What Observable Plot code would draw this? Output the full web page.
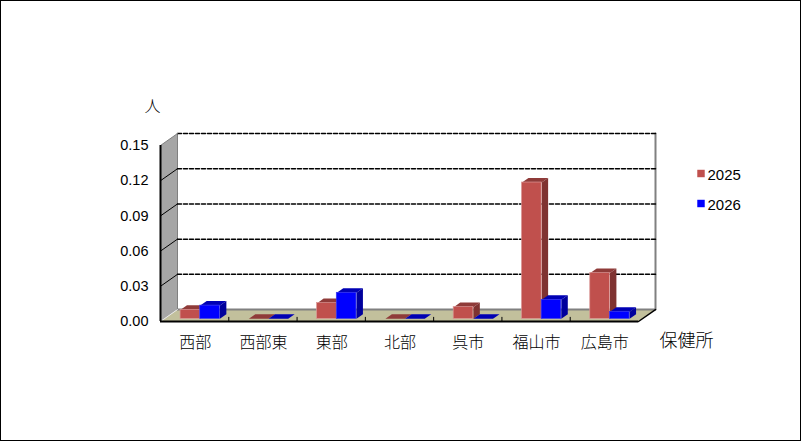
<!DOCTYPE html>
<html><head><meta charset="utf-8">
<script src="https://cdn.jsdelivr.net/npm/d3@7"></script>
<script src="https://cdn.jsdelivr.net/npm/@observablehq/plot@0.6"></script>
<style>
html,body{margin:0;padding:0;background:#fff}
svg{display:block;outline:1px solid #000;outline-offset:-1px}
</style></head><body>
<script>
const categories = ["西部","西部東","東部","北部","呉市","福山市","広島市"];
const values2025 = [0.0077,0,0.0134,0,0.0100,0.1162,0.0390];
const values2026 = [0.0113,0,0.0222,0,0,0.0162,0.0060];
const seriesNames = ["2025","2026"];
const yTicks = [0,0.03,0.06,0.09,0.12,0.15];

const cjk = "'Noto Sans CJK JP',sans-serif";
const latin = "'Liberation Sans',sans-serif";
const DX = 0.249, DY = 0.0102;                // oblique depth, in data units
const P = (x,y,z)=>({x:x+z*DX,y:y+z*DY});     // project (x,y,depth) into the plane
const n = categories.length, yMax = 0.15;
const face = (pts,fill)=>Plot.line(pts,{x:"x",y:"y",fill,stroke:"none"});
const edge = (pts,o)=>Plot.line(pts,{x:"x",y:"y",...o});

const series = [
  {name:seriesNames[0],vals:values2025,off:0.239,front:"#c0504d",roof:"#8f3b39",side:"#7f3331",hi:"#d99694"},
  {name:seriesNames[1],vals:values2026,off:0.527,front:"#0000ff",roof:"#0000b4",side:"#00009c",hi:"#3a3af0"}
];
const W = 0.288, Z0 = 0.22, Z1 = 0.6;
const barMarks = [];
categories.forEach((c,i)=>{
  series.forEach(s=>{
    const v = s.vals[i], x0=i+s.off, x1=x0+W;
    const b0=P(x0,0,Z0).y;
    barMarks.push(face([P(x0,v,Z0),P(x1,v,Z0),P(x1,v,Z1),P(x0,v,Z1)],s.roof));
    barMarks.push(face([P(x1,0,Z0),P(x1,v,Z0),P(x1,v,Z1),P(x1,0,Z1)],s.side));
    barMarks.push(Plot.rect([{c,v}],{
      x1:()=>P(x0,0,Z0).x,x2:()=>P(x1,0,Z0).x,y1:()=>b0,y2:d=>b0+d.v,
      fill:s.front,stroke:v>0?s.hi:"none",strokeWidth:0.7}));
  });
});

const chart = Plot.plot({
  width:801,height:441,
  marginLeft:160,marginRight:163,marginTop:145,marginBottom:120,
  style:{background:"#fff",fontFamily:latin,fontSize:"14px",color:"#000"},
  x:{type:"linear",domain:[0,n],axis:null},
  y:{type:"linear",domain:[0,yMax],axis:null},
  marks:[
    // left wall, floor
    face([P(0,0,0),P(0,yMax,0),P(0,yMax,1),P(0,0,1)],"#a6a6a6"),
    face([P(0,0,0),P(n,0,0),P(n,0,1),P(0,0,1)],"#c2c09c"),
    // back wall edges
    edge([P(0,0,1),P(n,0,1),P(n,yMax,1)],{stroke:"#808080",strokeWidth:2,fill:"none"}),
    edge([P(0,0,1),P(0,yMax,1)],{stroke:"#808080",strokeWidth:1,fill:"none"}),
    // grid
    ...yTicks.slice(1).map(t=>edge([P(0,t,1),P(n,t,1)],{stroke:"#000",strokeWidth:1.5,strokeDasharray:"4 2"})),
    // left wall diagonals
    ...yTicks.slice(1).map(t=>edge([P(0,t,0),P(0,t,1)],{stroke:t===yMax?"#808080":"#000",strokeWidth:1})),
    edge([P(0,0,0),P(0,0,1)],{stroke:"#e8e8e8",strokeWidth:1}),
    edge([P(n,0,0),P(n,0,1)],{stroke:"#000",strokeWidth:1.5}),
    // front axes
    Plot.ruleX([0],{y1:0,y2:yMax,stroke:"#000",strokeWidth:2}),
    Plot.ruleY([0],{x1:0,x2:n,stroke:"#000",strokeWidth:2}),
    Plot.ruleX(d3.range(1,n),{y1:0,y2:0.0035,stroke:"#000",strokeWidth:1}),
    ...barMarks,
    Plot.axisY({ticks:yTicks,label:null,tickSize:0,tickPadding:12,tickFormat:".2f",fontSize:14.5,fontFamily:latin,fill:"#000"}),
    Plot.axisX({ticks:categories.map((c,i)=>i+0.5),label:null,tickFormat:d=>categories[d-0.5],tickSize:0,
      tickPadding:15,dx:0.5,fontSize:16,fontFamily:cjk,fontWeight:300,fill:"#000"}),
    Plot.text(["人"],{frameAnchor:"top-left",dx:-8,dy:-45,fontSize:16,fontFamily:cjk,fontWeight:300,textAnchor:"middle",fill:"#000"}),
    Plot.text(["保健所"],{frameAnchor:"top-left",dx:526,dy:189,fontSize:18,fontFamily:cjk,fontWeight:300,textAnchor:"middle",fill:"#000"}),
    Plot.dot([seriesNames[0]],{frameAnchor:"top-left",dx:540.5,dy:28,symbol:"square",r:4.2,fill:series[0].front,stroke:"none"}),
    Plot.dot([seriesNames[1]],{frameAnchor:"top-left",dx:540.5,dy:58,symbol:"square",r:4.2,fill:series[1].front,stroke:"none"}),
    Plot.text([seriesNames[0]],{frameAnchor:"top-left",dx:547,dy:24,fontSize:15,fontFamily:latin,textAnchor:"start",fill:"#000"}),
    Plot.text([seriesNames[1]],{frameAnchor:"top-left",dx:547,dy:54,fontSize:15,fontFamily:latin,textAnchor:"start",fill:"#000"})
  ]
});
document.body.appendChild(chart);
</script>
</body></html>
